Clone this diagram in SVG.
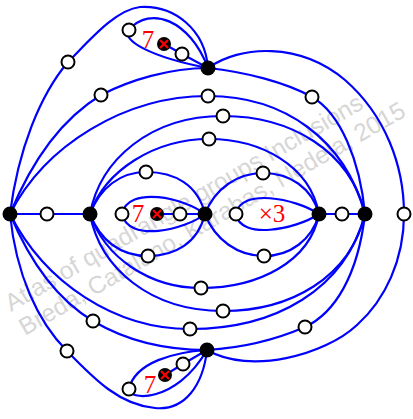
<svg xmlns="http://www.w3.org/2000/svg" width="413" height="419" viewBox="0 0 413 419">
<style>
.wm{font-family:"Liberation Sans",Arial,sans-serif;font-size:24.5px;fill:#d6d6d6}
.e{fill:none;stroke:#0000ff;stroke-width:2.2}
.b{fill:#000}
.w{fill:#fff;stroke:#000;stroke-width:2}
.x{stroke:#ff0000;stroke-width:2.2}
.lbl{font-family:"Liberation Serif","Times New Roman",serif;font-size:25px;fill:#ff0000}
</style>
<rect width="413" height="419" fill="#fff"/>
<g id="watermark">
<text class="wm" transform="translate(11,312) rotate(-30)">Atlas of quadrangle groups Inclusions</text>
<text class="wm" transform="translate(25,336) rotate(-30)">Breda, Catalano, Karabas, Nedela, 2015</text>
</g>
<g id="connectors">
<path class="e" d="M10,214 L90,214"/>
<path class="e" d="M319,214 L365,214"/>
<path class="e" d="M205,214 C185,198 128,185 122,214 C128,243 185,230 205,214"/>
<path class="e" d="M205,214 L157,214"/>
<path class="e" d="M319,214 C295,198 240,188 236,214 C240,240 295,230 319,214"/>
<path class="e" d="M90,214 C100,188 120,172 146,172 C175,172 198,185 205,214"/>
<path class="e" d="M90,214 C100,240 120,256 148,256 C175,256 198,243 205,214"/>
<path class="e" d="M205,214 C215,188 238,173 263,173 C290,173 312,188 319,214"/>
<path class="e" d="M205,214 C215,240 238,256 264,256 C290,256 312,240 319,214"/>
<path class="e" d="M90,214 C105,170 155,139 209,139 C260,139 310,165 319,214"/>
<path class="e" d="M90,214 C105,258 150,288 201,288 C258,288 310,262 319,214"/>
<path class="e" d="M90,214 C100,160 150,116 223,116 C290,116 350,150 365,214"/>
<path class="e" d="M90,214 C100,268 150,311 223,311 C290,311 350,278 365,214"/>
<path class="e" d="M10,214 C45,145 125,96 208,96 C285,96 345,140 365,214"/>
<path class="e" d="M10,214 C45,283 115,329 190,329 C275,329 345,290 365,214"/>
<path class="e" d="M10,214 C30,165 60,120 101,95 C130,80 170,68 208,68"/>
<path class="e" d="M10,214 C30,262 58,300 93,321 C125,340 165,350 207,350"/>
<path class="e" d="M10,214 C18,150 40,95 68,62 C90,40 115,10 140,7 C175,5 205,30 208,68"/>
<path class="e" d="M10,214 C16,275 38,322 67,351 C95,380 120,405 155,408 C185,411 203,385 207,350"/>
<path class="e" d="M208,68 C245,72 285,82 312,97 C340,113 360,160 365,214"/>
<path class="e" d="M207,350 C240,348 275,340 305,327 C335,313 358,275 365,214"/>
<path class="e" d="M208,68 C240,45 300,42 345,80 C385,115 404,165 404,214 C404,260 385,300 357,325 C325,355 250,375 207,350"/>
<path class="e" d="M208,68 C190,20 150,5 129,30 C121,40 150,57 208,68"/>
<path class="e" d="M208,68 L182,54 L164,44"/>
<path class="e" d="M207,350 C175,352 135,362 129,389 C127,400 175,405 207,350"/>
<path class="e" d="M207,350 L183,364 L165,375"/>
</g>
<g id="nL"><circle class="b" cx="10" cy="214" r="7.5"/></g>
<g id="nA"><circle class="b" cx="90" cy="214" r="7.5"/></g>
<g id="nC"><circle class="b" cx="205" cy="214" r="7.5"/></g>
<g id="nD"><circle class="b" cx="319" cy="214" r="7.5"/></g>
<g id="nR"><circle class="b" cx="365" cy="214" r="7.5"/></g>
<g id="nT"><circle class="b" cx="208" cy="68" r="7.5"/></g>
<g id="nB"><circle class="b" cx="207" cy="350" r="7.5"/></g>
<g id="xT"><circle class="b" cx="164" cy="44" r="7"/><path class="x" d="M160,40 L168,48 M168,40 L160,48"/></g>
<g id="xC"><circle class="b" cx="157" cy="214" r="7"/><path class="x" d="M153,210 L161,218 M161,210 L153,218"/></g>
<g id="xB"><circle class="b" cx="165" cy="375" r="7"/><path class="x" d="M161,371 L169,379 M169,371 L161,379"/></g>
<g id="w1"><circle class="w" cx="47" cy="214" r="6.5"/></g>
<g id="w2"><circle class="w" cx="122" cy="214" r="6.5"/></g>
<g id="w3"><circle class="w" cx="180" cy="214" r="6.5"/></g>
<g id="w4"><circle class="w" cx="236" cy="214" r="6.5"/></g>
<g id="w5"><circle class="w" cx="342" cy="214" r="6.5"/></g>
<g id="w6"><circle class="w" cx="404" cy="214" r="6.5"/></g>
<g id="w7"><circle class="w" cx="146" cy="172" r="6.5"/></g>
<g id="w8"><circle class="w" cx="148" cy="256" r="6.5"/></g>
<g id="w9"><circle class="w" cx="263" cy="173" r="6.5"/></g>
<g id="w10"><circle class="w" cx="264" cy="256" r="6.5"/></g>
<g id="w11"><circle class="w" cx="209" cy="139" r="6.5"/></g>
<g id="w12"><circle class="w" cx="201" cy="288" r="6.5"/></g>
<g id="w13"><circle class="w" cx="223" cy="116" r="6.5"/></g>
<g id="w14"><circle class="w" cx="223" cy="311" r="6.5"/></g>
<g id="w15"><circle class="w" cx="208" cy="96" r="6.5"/></g>
<g id="w16"><circle class="w" cx="190" cy="329" r="6.5"/></g>
<g id="w17"><circle class="w" cx="101" cy="95" r="6.5"/></g>
<g id="w18"><circle class="w" cx="93" cy="321" r="6.5"/></g>
<g id="w19"><circle class="w" cx="68" cy="62" r="6.5"/></g>
<g id="w20"><circle class="w" cx="67" cy="351" r="6.5"/></g>
<g id="w21"><circle class="w" cx="312" cy="97" r="6.5"/></g>
<g id="w22"><circle class="w" cx="305" cy="327" r="6.5"/></g>
<g id="w23"><circle class="w" cx="129" cy="30" r="6.5"/></g>
<g id="w24"><circle class="w" cx="182" cy="54" r="6.5"/></g>
<g id="w25"><circle class="w" cx="129" cy="389" r="6.5"/></g>
<g id="w26"><circle class="w" cx="183" cy="364" r="6.5"/></g>
<g id="labels">
<text class="lbl" x="148" y="48" text-anchor="middle">7</text>
<text class="lbl" x="138" y="222" text-anchor="middle">7</text>
<text class="lbl" x="150" y="393" text-anchor="middle">7</text>
<text class="lbl" x="272" y="222" text-anchor="middle" font-size="26">×3</text>
</g>
</svg>
